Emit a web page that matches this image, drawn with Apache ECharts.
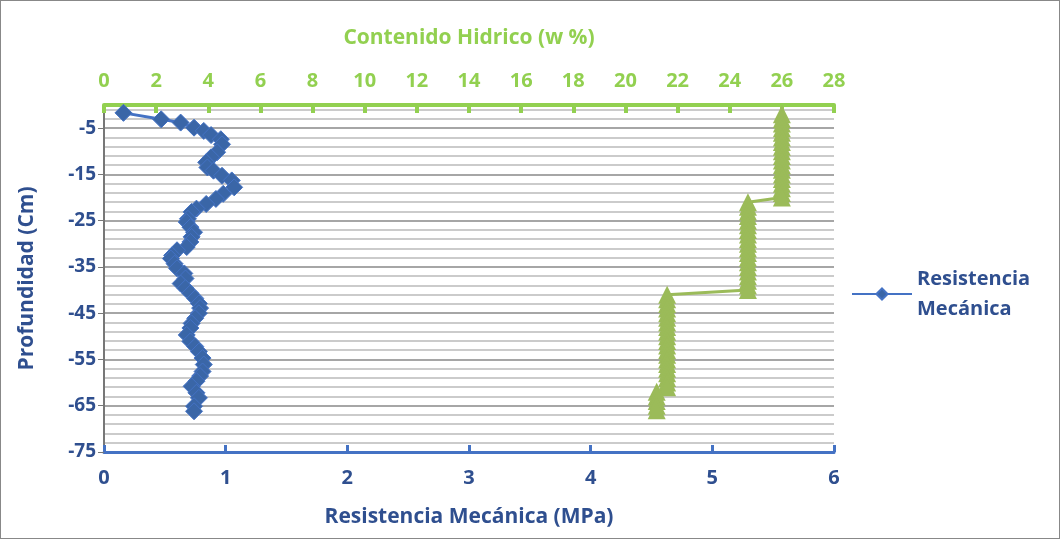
<!DOCTYPE html>
<html><head><meta charset="utf-8">
<script src="https://cdn.jsdelivr.net/npm/echarts@6/dist/echarts.min.js"></script>
<style>html,body{margin:0;padding:0;background:#fff}#c{width:1060px;height:539px;box-sizing:border-box;border:1px solid #888}</style>
</head><body><div id="c"></div>
<script>
// Resistencia Mecánica (MPa) vs depth
const resistDepth = [-1.7,-3.1,-3.8,-4.9,-5.6,-6.5,-7.4,-8.5,-10.2,-11.3,-12.4,-13.5,-14.2,-15.3,-16.3,-17.8,-19.2,-20.3,-21.4,-22.4,-23.1,-24.6,-25.3,-26.4,-27.5,-28.5,-29.6,-30.7,-31.4,-32.5,-33.2,-34.3,-35.3,-36.4,-37.5,-38.6,-39.6,-40.7,-41.8,-42.9,-43.9,-45,-46.1,-47.2,-48.2,-49.7,-51.1,-52.2,-53.3,-54.7,-56.1,-57.6,-58.6,-59.7,-60.8,-62.2,-63.3,-65.1,-66.2];
const resistValues = [0.16,0.47,0.63,0.74,0.82,0.88,0.96,0.97,0.93,0.88,0.84,0.85,0.90,0.97,1.05,1.07,0.98,0.92,0.84,0.76,0.72,0.69,0.68,0.71,0.74,0.72,0.71,0.68,0.60,0.56,0.55,0.58,0.60,0.66,0.67,0.63,0.67,0.71,0.75,0.78,0.79,0.78,0.75,0.72,0.71,0.68,0.71,0.75,0.78,0.81,0.82,0.81,0.79,0.76,0.72,0.76,0.78,0.74,0.74];
// Contenido Hidrico (w %) vs depth
const waterDepth = [-2,-3,-4,-5,-6,-7,-8,-9,-10,-11,-12,-13,-14,-15,-16,-17,-18,-19,-20,-21,-22,-23,-24,-25,-26,-27,-28,-29,-30,-31,-32,-33,-34,-35,-36,-37,-38,-39,-40,-41,-42,-43,-44,-45,-46,-47,-48,-49,-50,-51,-52,-53,-54,-55,-56,-57,-58,-59,-60,-61,-62,-63,-64,-65,-66];
const waterValues = [26,26,26,26,26,26,26,26,26,26,26,26,26,26,26,26,26,26,26,24.7,24.7,24.7,24.7,24.7,24.7,24.7,24.7,24.7,24.7,24.7,24.7,24.7,24.7,24.7,24.7,24.7,24.7,24.7,24.7,21.6,21.6,21.6,21.6,21.6,21.6,21.6,21.6,21.6,21.6,21.6,21.6,21.6,21.6,21.6,21.6,21.6,21.6,21.6,21.6,21.6,21.2,21.2,21.2,21.2,21.2];

const blue = '#4472C4', dark = '#2F4F8F', green = '#9BBB59', lime = '#92D050';
const chart = echarts.init(document.getElementById('c'));
chart.setOption({
  animation: false,
  textStyle: { fontFamily: 'Open Sans' },
  grid: { left: 103, right: 225, top: 104, bottom: 86 },
  legend: {
    data: ['Resistencia Mecánica'], orient: 'vertical', left: 845, top: 258,
    itemWidth: 60, itemHeight: 14,
    formatter: () => 'Resistencia\nMecánica',
    textStyle: { color: dark, fontWeight: 'bold', fontSize: 20, lineHeight: 30 }
  },
  xAxis: [
    { type: 'value', position: 'bottom', min: 0, max: 6, interval: 1,
      name: 'Resistencia Mecánica (MPa)', nameLocation: 'middle', nameGap: 55,
      nameTextStyle: { color: dark, fontWeight: 'bold', fontSize: 21 },
      axisLine: { onZero: false, lineStyle: { color: blue, width: 3 } },
      axisTick: { show: true, inside: true, length: 7, lineStyle: { color: blue, width: 3 } },
      axisLabel: { color: dark, fontWeight: 'bold', fontSize: 20, margin: 16 },
      splitLine: { show: false } },
    { type: 'value', position: 'top', min: 0, max: 28, interval: 2,
      name: 'Contenido Hidrico (w %)', nameLocation: 'middle', nameGap: 56,
      nameTextStyle: { color: lime, fontWeight: 'bold', fontSize: 21 },
      axisLine: { onZero: false, lineStyle: { color: lime, width: 4 } },
      axisTick: { show: true, inside: true, length: 8, lineStyle: { color: lime, width: 4 } },
      axisLabel: { color: lime, fontWeight: 'bold', fontSize: 20, margin: 14 },
      splitLine: { show: false } }
  ],
  yAxis: {
    type: 'value', min: -75, max: 0, interval: 10,
    name: 'Profundidad (Cm)', nameLocation: 'middle', nameGap: 66, nameRotate: 90,
    nameTextStyle: { color: dark, fontWeight: 'bold', fontSize: 21 },
    axisLine: { show: true, lineStyle: { color: '#777', width: 2 } },
    axisTick: { show: true, length: 6, lineStyle: { color: '#777' } },
    axisLabel: { color: dark, fontWeight: 'bold', fontSize: 19, showMaxLabel: false,
      formatter: v => v === 0 ? '' : String(v) },
    splitLine: { lineStyle: { color: '#888', width: 1.5 } },
    minorTick: { show: false, splitNumber: 5 },
    minorSplitLine: { show: true, lineStyle: { color: '#bbb', width: 1.5 } }
  },
  series: [
    { name: 'Resistencia Mecánica', type: 'line', xAxisIndex: 0,
      data: resistValues.map((v, i) => [v, resistDepth[i]]),
      symbol: 'diamond', symbolSize: 17,
      lineStyle: { color: blue, width: 3 },
      itemStyle: { color: '#3A66A7', borderColor: blue, borderWidth: 1 } },
    { name: 'Contenido Hidrico', type: 'line', xAxisIndex: 1,
      data: waterValues.map((v, i) => [v, waterDepth[i]]),
      symbol: 'triangle', symbolSize: 18,
      lineStyle: { color: green, width: 3 },
      itemStyle: { color: green } }
  ]
});
</script></body></html>
